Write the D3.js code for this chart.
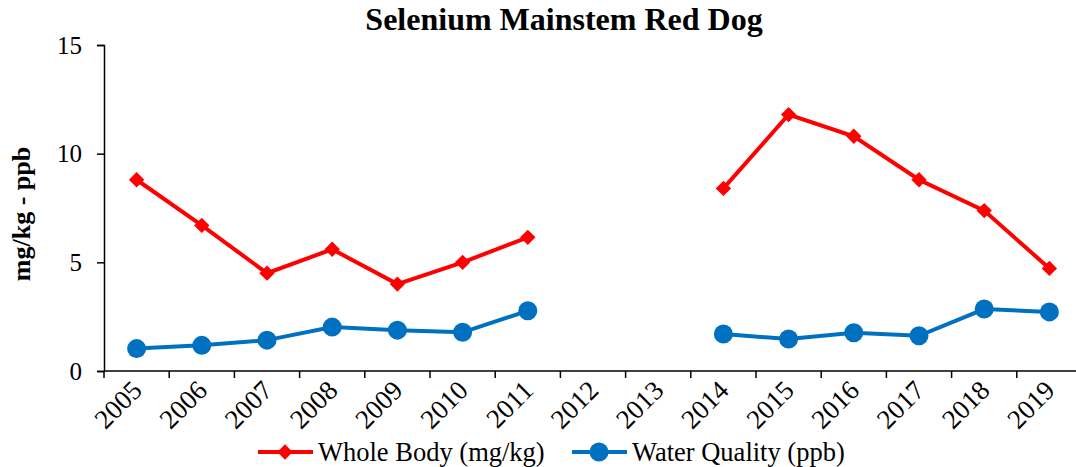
<!DOCTYPE html>
<html>
<head>
<meta charset="utf-8">
<script src="https://cdn.jsdelivr.net/npm/d3@7"></script>
<style>
  body { margin: 0; background: #fff; }
  svg { display: block; font-family: "Liberation Serif", "Times New Roman", serif; }
</style>
</head>
<body>
<div id="chart"></div>
<script>
const years = ['2005', '2006', '2007', '2008', '2009', '2010', '2011', '2012', '2013',
  '2014', '2015', '2016', '2017', '2018', '2019'];
const wholeBody = [8.8, 6.7, 4.5, 5.6, 4.0, 5.0, 6.15, null, null, 8.4, 11.8, 10.8, 8.8, 7.38, 4.72];
const waterQuality = [1.03, 1.18, 1.42, 2.02, 1.88, 1.78, 2.77, null, null, 1.7, 1.47, 1.76, 1.62, 2.85, 2.72];
const yTicks = [0, 5, 10, 15];

const width = 1076, height = 467;
const serif = '"Liberation Serif", "Times New Roman", serif';
const margins = { left: 104, right: -6, top: 45, bottom: 96 };

const svg = d3.select('#chart').append('svg')
  .attr('width', width)
  .attr('height', height);

const x = d3.scaleBand()
  .domain(years)
  .range([margins.left, width - margins.right]);

const y = d3.scaleLinear()
  .domain([0, 15])
  .range([height - margins.bottom, margins.top]);

// title
svg.append('text')
  .attr('x', 564)
  .attr('y', 30)
  .attr('text-anchor', 'middle')
  .attr('font-weight', 'bold')
  .attr('font-size', 32)
  .text('Selenium Mainstem Red Dog');

// y axis
const yAxis = svg.append('g')
  .attr('transform', 'translate(' + margins.left + ',0)')
  .call(d3.axisLeft(y).tickValues(yTicks).tickSize(7).tickPadding(15));
yAxis.attr('font-family', serif);
yAxis.selectAll('text')
  .attr('font-family', serif)
  .attr('font-size', 25)
  .attr('fill', '#000');
yAxis.selectAll('line, path').attr('stroke', '#000').attr('stroke-width', 1.5);

svg.append('text')
  .attr('transform', 'translate(30,' + 214 + ') rotate(-90)')
  .attr('text-anchor', 'middle')
  .attr('font-weight', 'bold')
  .attr('font-size', 26)
  .text('mg/kg - ppb');

// x axis
const xAxis = svg.append('g')
  .attr('transform', 'translate(0,' + y(0) + ')');
xAxis.append('line')
  .attr('x1', margins.left).attr('x2', width)
  .attr('stroke', '#000').attr('stroke-width', 1.5);
xAxis.selectAll('.tick')
  .data(years)
  .enter().append('line')
  .attr('x1', d => x(d)).attr('x2', d => x(d))
  .attr('y1', 0).attr('y2', 7)
  .attr('stroke', '#000').attr('stroke-width', 1.5);
xAxis.selectAll('.lbl')
  .data(years)
  .enter().append('text')
  .attr('class', 'lbl')
  .attr('text-anchor', 'end')
  .attr('font-size', 27)
  .attr('transform', d => 'translate(' + (x(d) + x.bandwidth() / 2 + 7) + ',21) rotate(-45)')
  .text(d => d);

// lines
const lineGen = d3.line()
  .defined(d => d != null)
  .x((d, i) => x(years[i]) + x.bandwidth() / 2)
  .y(d => y(d));

svg.append('path')
  .datum(waterQuality)
  .attr('fill', 'none')
  .attr('stroke', '#0070C0')
  .attr('stroke-width', 4)
  .attr('d', lineGen);

svg.selectAll('.wq')
  .data(waterQuality.map((v, i) => ({ v: v, i: i })).filter(d => d.v != null))
  .enter().append('circle')
  .attr('cx', d => x(years[d.i]) + x.bandwidth() / 2)
  .attr('cy', d => y(d.v))
  .attr('r', 9.5)
  .attr('fill', '#0070C0');

svg.append('path')
  .datum(wholeBody)
  .attr('fill', 'none')
  .attr('stroke', '#FF0000')
  .attr('stroke-width', 4)
  .attr('d', lineGen);

const diamond = d3.symbol().type(d3.symbolDiamond2).size(150);
svg.selectAll('.wb')
  .data(wholeBody.map((v, i) => ({ v: v, i: i })).filter(d => d.v != null))
  .enter().append('path')
  .attr('transform', d => 'translate(' + (x(years[d.i]) + x.bandwidth() / 2) + ',' + y(d.v) + ')')
  .attr('d', diamond)
  .attr('fill', '#FF0000');

// legend
const legend = [
  { name: 'Whole Body (mg/kg)', color: '#FF0000', x: 258, marker: 'diamond' },
  { name: 'Water Quality (ppb)', color: '#0070C0', x: 572, marker: 'circle' }
];
const ly = 452;
legend.forEach(l => {
  svg.append('line')
    .attr('x1', l.x).attr('x2', l.x + 55)
    .attr('y1', ly).attr('y2', ly)
    .attr('stroke', l.color).attr('stroke-width', 4);
  if (l.marker === 'diamond') {
    svg.append('path')
      .attr('transform', 'translate(' + (l.x + 27) + ',' + ly + ')')
      .attr('d', diamond)
      .attr('fill', l.color);
  } else {
    svg.append('circle')
      .attr('cx', l.x + 27).attr('cy', ly).attr('r', 9.5)
      .attr('fill', l.color);
  }
  svg.append('text')
    .attr('x', l.x + 60)
    .attr('y', ly + 9)
    .attr('font-size', 26.5)
    .text(l.name);
});
</script>
</body>
</html>
